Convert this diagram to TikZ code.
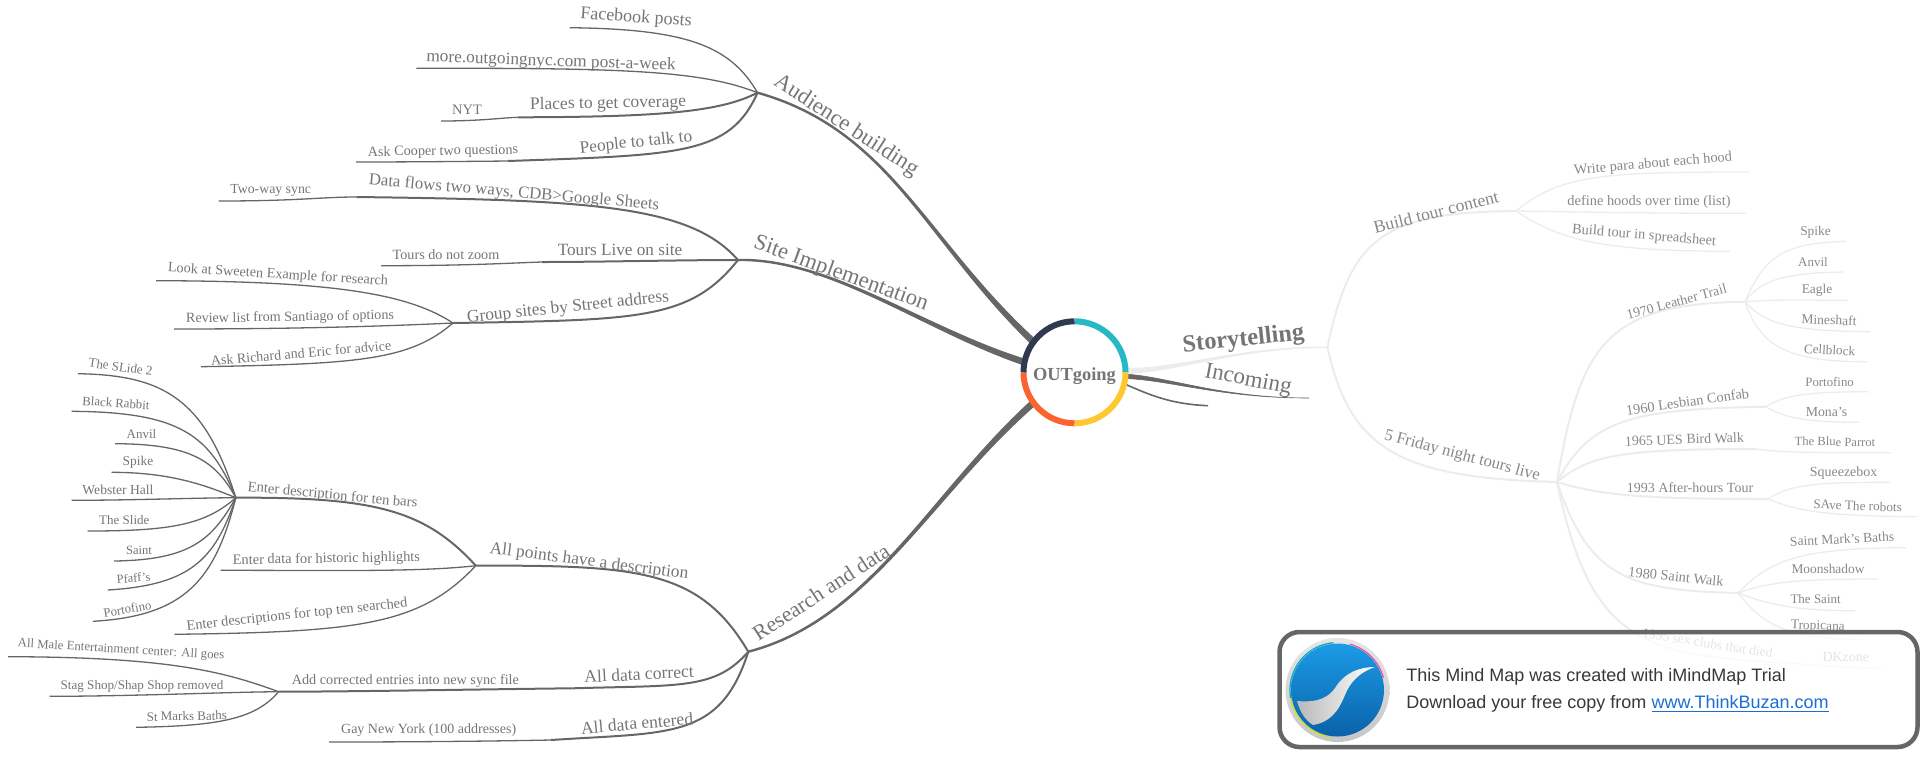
\documentclass[tikz,border=0pt]{standalone}
\usepackage{fontspec}
\setmainfont{Liberation Serif}
\newfontfamily\trialfont{Liberation Sans}
\definecolor{darkbranch}{HTML}{666666}
\definecolor{darktext}{HTML}{757575}
\definecolor{lightbranch}{HTML}{ECECEC}
\definecolor{lighttext}{HTML}{888888}
\definecolor{hubnavy}{HTML}{2F3A50}
\definecolor{hubteal}{HTML}{26B8C4}
\definecolor{hubyellow}{HTML}{FDC830}
\definecolor{huborange}{HTML}{FB6430}
\definecolor{framegrey}{HTML}{666666}
\definecolor{linkblue}{HTML}{1C6FD0}
\definecolor{logotop}{HTML}{1C9BE6}
\definecolor{logobottom}{HTML}{0A62AA}
\tikzset{
	lab/.style={text=darktext,inner sep=0pt,font=\fontsize{#1}{#1}\selectfont},
	rlab/.style={text=lighttext,inner sep=0pt,font=\fontsize{#1}{#1}\selectfont},
	trunk/.style={draw=darkbranch,fill=darkbranch,line width=1.2pt},
	limb/.style={draw=darkbranch,line width=1pt},
	twig/.style={draw=darkbranch,line width=0.65pt},
	rtrunk/.style={draw=lightbranch,fill=lightbranch,line width=1.2pt},
	rlimb/.style={draw=lightbranch,line width=1pt},
	rtwig/.style={draw=lightbranch,line width=0.65pt},
	hubarc/.style={line width=3pt},
	trialtext/.style={anchor=west,inner sep=0pt,font=\trialfont\fontsize{9}{9}\selectfont,text=black!78},
}
\begin{document}
\begin{tikzpicture}[x=0.5pt,y=-0.5pt]
\useasboundingbox (0,0) rectangle (1920,756);
\node[circle,inner sep=0pt,outer sep=0pt,minimum size=51pt] (hub) at (1074.5,372.3) {};
% junctions and free ends
\foreach \n/\x/\y in {
	jaudience/757.5/92.7, jsite/738/260, jresearch/748.3/651.7,
	jplaces/517.5/117.3, jpeople/508/161, jdata/356.4/197, jlive/542/262, jgroup/453/323,
	jpoints/475.8/565.7, jbars/235.8/497.7, jcorrect/572.6/688.3, jadd/278.6/691.7, jentered/551/740,
	efacebook/569.5/27.7, emore/416.4/68.3, enyt/441/121, ecooper/356/162,
	etwoway/218.6/201, ezoom/381/265.7, esweeten/156/280.7, ereview/174/329, erichard/201/366.7,
	eslidetwo/77.8/373.7, erabbit/71.6/411.3, eanvil/115/443.7, espike/111.5/472.3, ewebster/71.6/500.3,
	eslide/87.6/531, esaint/114/561, epfaff/107.8/590, eportofino/93/621.3,
	ehistoric/220.5/570.3, etopten/174.5/634.3, emale/8/656.7, estag/49.6/696.3, ebaths/136/727.3, egay/329/742,
	jstory/1327.4/347.3, jbuild/1516/211, jfriday/1557/482, jleather/1745/301.7, jlesbian/1766/406.7,
	jbird/1756/449, jafter/1768/499, jwalk/1738/593, jclubs/1782/662.7,
	eincoming/1309/398, eblank/1208/405.7, ewrite/1749/172, edefine/1745.7/213.3, esheet/1730/251.3,
	rspike/1846.7/241.3, ranvil/1843/272, reagle/1848/300.3, rmine/1870.6/331.7, rcell/1867/361.7,
	rporto/1868/391.7, rmona/1859/422.3, rparrot/1890.8/452.7, rsqueeze/1889.6/482.3, rrobots/1916.6/516.7,
	rmark/1906.5/547.7, rmoon/1878/579, rsaint/1855/610.7, rtrop/1858.4/639.3, rdk/1882.5/668}
	\coordinate (\n) at (\x,\y);
% left side
\filldraw[trunk] (jaudience) .. controls (890,130) and (924.5,239.5) .. (hub.146.5) -- (hub.141.5) .. controls (925.5,240.5) and (890,130) .. (jaudience) -- cycle;
\filldraw[trunk] (jsite) .. controls (830,258) and (924.5,330.5) .. (hub.171.5) -- (hub.166.5) .. controls (925.5,329.5) and (830,258) .. (jsite) -- cycle;
\filldraw[trunk] (jresearch) .. controls (870,620) and (929.5,494.5) .. (hub.214.5) -- (hub.219.5) .. controls (930.5,495.5) and (870,620) .. (jresearch) -- cycle;
\foreach \a/\b/\p/\q/\r/\s in {
	jaudience/jplaces/720/112/660/117, jaudience/jpeople/730/155/680/155,
	jsite/jdata/690/205/590/200, jsite/jlive/680/260/600/262, jsite/jgroup/690/320/640/320,
	jresearch/jpoints/700/570/640/565, jresearch/jcorrect/715/690/680/685, jresearch/jentered/720/740/670/732,
	jpoints/jbars/425/510/375/497, jcorrect/jadd/500/689/350/691.7}
	\draw[limb] (\a) .. controls (\p,\q) and (\r,\s) .. (\b);
\foreach \a/\b/\p/\q/\r/\s in {
	jaudience/efacebook/730/45/685/29, jaudience/emore/700/70/620/68,
	jplaces/enyt/500/118/480/121, jpeople/ecooper/460/161.5/400/162,
	jdata/etwoway/320/197/300/201, jlive/ezoom/510/263/470/265.7,
	jgroup/esweeten/410/295/340/281, jgroup/ereview/390/326/300/329, jgroup/erichard/410/360/360/364,
	jbars/eslidetwo/205/400/165/375, jbars/erabbit/210/435/180/412, jbars/eanvil/215/460/190/444,
	jbars/espike/205/485/170/472.3, jbars/ewebster/190/498/130/500.3, jbars/eslide/205/525/170/531,
	jbars/esaint/212/540/190/560, jbars/epfaff/215/560/190/585, jbars/eportofino/215/580/185/616,
	jpoints/ehistoric/420/572/340/570.3, jpoints/etopten/420/625/360/632,
	jadd/emale/225/672/170/657, jadd/estag/230/692/130/696.3, jadd/ebaths/255/720/215/726,
	jentered/egay/500/741/420/742}
	\draw[twig] (\a) .. controls (\p,\q) and (\r,\s) .. (\b);
% right side
\filldraw[rtrunk,line width=0.8pt] (jstory) .. controls (1240,347) and (1180,371) .. (hub.359.5) -- (hub.4.5) .. controls (1180,369) and (1240,347) .. (jstory) -- cycle;
\filldraw[trunk,line width=0.3pt] (eincoming) .. controls (1220,398) and (1170,380) .. (hub.353) -- (hub.358) .. controls (1170,377) and (1220,398) .. (eincoming) -- cycle;
\draw[limb,line width=0.8pt] (hub.347) .. controls (1150,395) and (1170,404) .. (eblank);
\foreach \a/\b/\p/\q/\r/\s in {
	jstory/jbuild/1350/240/1380/212, jstory/jfriday/1350/450/1400/478,
	jfriday/jleather/1580/340/1610/304, jfriday/jlesbian/1590/420/1630/409,
	jfriday/jbird/1590/455/1620/449, jfriday/jafter/1600/495/1640/499,
	jfriday/jwalk/1590/580/1630/590, jfriday/jclubs/1590/640/1640/655}
	\draw[rlimb] (\a) .. controls (\p,\q) and (\r,\s) .. (\b);
\foreach \a/\b/\p/\q/\r/\s in {
	jbuild/ewrite/1560/175/1600/172, jbuild/edefine/1580/212/1650/213.3, jbuild/esheet/1560/240/1600/251,
	jleather/rspike/1765/255/1785/243, jleather/ranvil/1760/280/1785/273, jleather/reagle/1780/299/1810/300.3,
	jleather/rmine/1765/325/1795/331, jleather/rcell/1760/345/1785/362,
	jlesbian/rporto/1785/395/1805/392, jlesbian/rmona/1785/418/1805/422,
	jbird/rparrot/1775/452/1800/452.7, jafter/rsqueeze/1790/485/1810/482.3, jafter/rrobots/1795/510/1820/516,
	jwalk/rmark/1770/560/1800/548, jwalk/rmoon/1770/582/1795/579, jwalk/rsaint/1765/603/1790/610.7,
	jwalk/rtrop/1760/620/1780/639, jclubs/rdk/1810/664/1840/668}
	\draw[rtwig] (\a) .. controls (\p,\q) and (\r,\s) .. (\b);
% hub ring
\draw[hubarc,hubteal] (hub.north) arc (-90:0:51);
\draw[hubarc,hubyellow] (hub.east) arc (0:90:51);
\draw[hubarc,huborange] (hub.south) arc (90:180:51);
\draw[hubarc,hubnavy] (hub.west) arc (180:270:51);
\node[inner sep=0pt,text=darktext,font=\fontsize{9.2}{9.2}\selectfont\bfseries] (hubtext) at (1074.5,376) {OUTgoing};
% labels, left
\node[lab=11.3,rotate=-33] (audience) at (846,126) {Audience building};
\node[lab=9,rotate=-4] (facebook) at (636,18) {Facebook posts};
\node[lab=8.65,rotate=-2] (more) at (551,61.7) {more.outgoingnyc.com post-a-week};
\node[lab=8.75,rotate=1] (places) at (608,104) {Places to get coverage};
\node[lab=7.2] (nyt) at (467,110) {NYT};
\node[lab=8.65,rotate=6] (people) at (636,143) {People to talk to};
\node[lab=7.1,rotate=1] (cooper) at (443,151.7) {Ask Cooper two questions};
\node[lab=11.3,rotate=-20] (site) at (841,274) {Site Implementation};
\node[lab=8.4,rotate=-5] (data) at (514,193) {Data flows two ways, CDB>Google Sheets};
\node[lab=6.9] (twoway) at (270.7,190.7) {Two-way sync};
\node[lab=8.6] (live) at (620,250) {Tours Live on site};
\node[lab=7.1] (zoom) at (446,255) {Tours do not zoom};
\node[lab=8.7,rotate=6] (group) at (568,308) {Group sites by Street address};
\node[lab=7.1,rotate=-3.5] (sweeten) at (278,275) {Look at Sweeten Example for research};
\node[lab=7.05,rotate=1] (review) at (290,317.7) {Review list from Santiago of options};
\node[lab=7,rotate=5] (richard) at (301,353) {Ask Richard and Eric for advice};
\node[lab=10.9,rotate=33] (research) at (821,592) {Research and data};
\node[lab=8.7,rotate=-7.4] (points) at (589,562) {All points have a description};
\node[lab=7.3,rotate=-5.5] (bars) at (332.5,495.7) {Enter description for ten bars};
\node[lab=7.2,rotate=1] (historic) at (326.4,559.3) {Enter data for historic highlights};
\node[lab=7.2,rotate=6] (topten) at (297,615) {Enter descriptions for top ten searched};
\node[lab=6.5,rotate=-8] (slidetwo) at (120.6,367) {The SLide 2};
\node[lab=6.4,rotate=-4] (rabbit) at (116,403) {Black Rabbit};
\node[lab=6.5] (anvil) at (141.5,434) {Anvil};
\node[lab=6.7] (spike) at (138,462.7) {Spike};
\node[lab=6.8] (webster) at (118,490) {Webster Hall};
\node[lab=6.5] (slide) at (124.3,520) {The Slide};
\node[lab=6.3] (saint) at (139,550) {Saint};
\node[lab=6.2,rotate=5] (pfaff) at (133.5,578) {Pfaff's};
\node[lab=6.4,rotate=10] (portofino) at (127.4,609) {Portofino};
\node[lab=8.8,rotate=3] (correct) at (639,674) {All data correct};
\node[lab=7.1] (add) at (405.4,680.7) {Add corrected entries into new sync file};
\node[lab=6.4,rotate=-3.4] (male) at (121,650) {All Male Entertainment center: All goes};
\node[lab=6.55] (stag) at (142,686) {Stag Shop/Shap Shop removed};
\node[lab=6.5,rotate=1] (baths) at (186.8,716) {St Marks Baths};
\node[lab=8.8,rotate=5] (entered) at (637,723.3) {All data entered};
\node[lab=7] (gay) at (428.7,730) {Gay New York (100 addresses)};
% labels, right
\node[lab=12.2,rotate=6,font=\fontsize{12.2}{12.2}\selectfont\bfseries] (story) at (1243.5,340) {Storytelling};
\node[lab=11.5,rotate=-11] (incoming) at (1248,380.7) {Incoming};
\node[rlab=8.8,rotate=14] (build) at (1436,212) {Build tour content};
\node[rlab=7.2,rotate=5] (write) at (1653,164.3) {Write para about each hood};
\node[rlab=7.2] (define) at (1649,202.3) {define hoods over time (list)};
\node[rlab=7.2,rotate=-5] (sheet) at (1644,236) {Build tour in spreadsheet};
\node[rlab=8.3,rotate=-15] (friday) at (1462,456) {5 Friday night tours live};
\node[rlab=6.9,rotate=15] (leather) at (1676.5,301.7) {1970 Leather Trail};
\node[rlab=6.7] (rspikelab) at (1815.5,232.3) {Spike};
\node[rlab=6.5] (ranvillab) at (1813,262) {Anvil};
\node[rlab=6.7] (reaglelab) at (1817,290) {Eagle};
\node[rlab=6.8,rotate=-2] (rminelab) at (1829,320) {Mineshaft};
\node[rlab=6.6,rotate=-3] (rcelllab) at (1829.6,350) {Cellblock};
\node[rlab=7.2,rotate=8] (lesbian) at (1687.5,401.7) {1960 Lesbian Confab};
\node[rlab=6.4] (rportolab) at (1829.6,382) {Portofino};
\node[rlab=6.9] (rmonalab) at (1826.5,411.7) {Mona's};
\node[rlab=7,rotate=2] (bird) at (1684.4,439.3) {1965 UES Bird Walk};
\node[rlab=6.3,rotate=-1] (rparrotlab) at (1835,441.7) {The Blue Parrot};
\node[rlab=7] (after) at (1690,487.3) {1993 After-hours Tour};
\node[rlab=7] (rsqueezelab) at (1843.6,472.7) {Squeezebox};
\node[rlab=6.6,rotate=-2] (rrobotslab) at (1857.6,505.7) {SAve The robots};
\node[rlab=7.2,rotate=-6] (walk) at (1676,576.7) {1980 Saint Walk};
\node[rlab=6.8,rotate=3] (rmarklab) at (1842,539) {Saint Mark's Baths};
\node[rlab=6.7] (rmoonlab) at (1828,569.3) {Moonshadow};
\node[rlab=6.5] (rsaintlab) at (1815.6,599.3) {The Saint};
\node[rlab=6.7,rotate=-2] (rtroplab) at (1817.8,626.7) {Tropicana};
\node[rlab=6.8,rotate=-9] (clubs) at (1707.6,643) {1995 sex clubs that died};
\node[rlab=7] (rdklab) at (1845.8,657.3) {DKzone};
% trial box
\draw[framegrey,line width=2.25pt,rounded corners=10pt,fill=white,fill opacity=0.78] (1279.5,632) rectangle (1917.5,747);
\node[circle,inner sep=0pt,outer sep=0pt,minimum size=52pt,shade,top color=gray!20,bottom color=gray!45] (logo) at (1337.5,690) {};
\draw[cyan!70!green,line width=0.6pt] ([shift={(170:47.5)}]logo.center) arc (170:265:47.5);
\draw[magenta!70,line width=0.6pt] ([shift={(285:47.5)}]logo.center) arc (285:345:47.5);
\draw[yellow!80!green,line width=0.6pt] ([shift={(100:47.5)}]logo.center) arc (100:170:47.5);
\shade[top color=logotop,bottom color=logobottom] (logo.center) circle (46.5);
\shade[left color=gray!55,right color=white] (1375,667) .. controls (1360,667) and (1345,672) .. (1335,688) .. controls (1325,702) and (1310,702) .. (1297,701) .. controls (1300,712) and (1305,720) .. (1313,725) .. controls (1330,722) and (1338,712) .. (1345,695) .. controls (1350,682) and (1360,672) .. (1375,667) -- cycle;
\node[trialtext] (trialone) at (1406,676.7) {This Mind Map was created with iMindMap Trial};
\node[trialtext] (trialtwo) at (1406,704) {Download your free copy from \textcolor{linkblue}{\underline{www.ThinkBuzan.com}}};
\end{tikzpicture}
\end{document}
